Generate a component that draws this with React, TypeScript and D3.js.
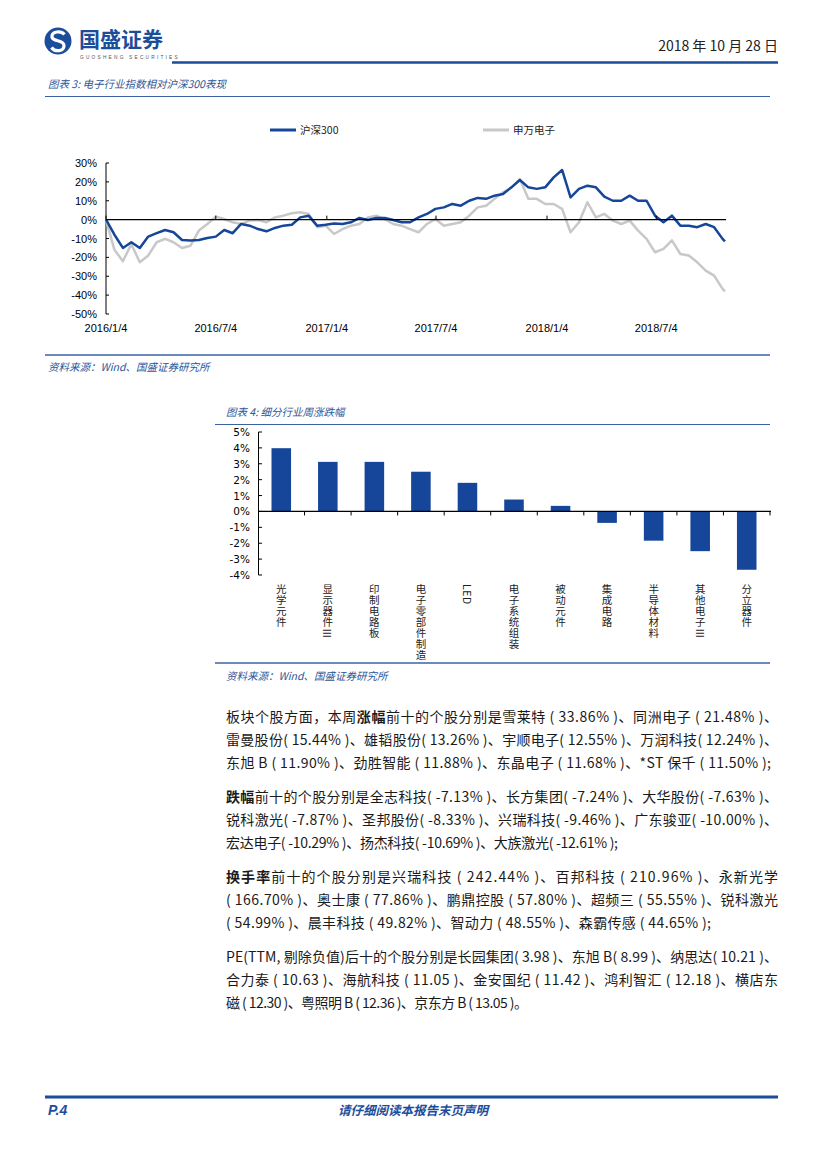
import React from 'react';
import * as d3 from 'd3';

// ---------- Chart 3 data: relative performance (%), sampled every 14 days from 2016-01-04, last point 2018-10-26
const lineStart = '2016-01-04';
const lineEnd = '2018-10-26';
const sampleStepDays = 14;
const hs300Values = [
  0, -8, -15, -12, -15, -9, -7.2, -5.5, -6.7, -10.8,
  -11, -10.8, -9.7, -9, -5.5, -7.2, -2.3, -3.2, -5, -6.2,
  -4.4, -3.2, -2.7, 1.2, 2, -3.2, -2.7, -2, -2.3, -1.4,
  0.9, -0.2, 0.9, 0.9, -0.2, -1.4, -1.4, 1.2, 3, 5.7,
  6.5, 8.3, 7.4, 10, 11.5, 11, 12.7, 13.6, 17.1, 21,
  17.1, 16.3, 17.1, 22.4, 26.3, 11.8, 16.3, 18, 17.1, 12.2,
  10, 10, 12.7, 10, 10, 2.1, -1.4, 2.1, -3.2, -3.2,
  -4, -2.3, -4, -10.2, -11.5,
];
const swElecValues = [
  0, -16, -22, -13, -22.6, -19, -12, -10.2, -12, -15,
  -13.8, -5.8, -2.3, 1.6, 0.3, -1.4, -2.3, -0.5, -0.2, -1.4,
  1.2, 2.1, 3.4, 3.9, 3, -4, -3.2, -7.6, -5, -3.2,
  -2.3, 1.2, 2.1, 0.3, -2.3, -3.2, -5, -6.7, -2.3, 0.3,
  -3.2, -2.3, -1.4, 2.1, 6.5, 7.4, 11, 14.5, 17, 21.5,
  11, 11, 8.3, 8.3, 5.7, -6.7, -1.4, 9.2, 1.2, 3,
  -0.5, -2.3, -0.5, -5.8, -10.2, -17.3, -15.5, -11, -18.2, -19,
  -22.6, -27, -29.7, -36.7, -38,
];
const seriesNames = ['沪深300', '申万电子'];
const xTickLabels = ['2016/1/4', '2016/7/4', '2017/1/4', '2017/7/4', '2018/1/4', '2018/7/4'];
const yTicks1 = [30, 20, 10, 0, -10, -20, -30, -40, -50];

// ---------- Chart 4 data: weekly change by sub-industry (%)
const barCategories = ['光学元件', '显示器件Ⅲ', '印制电路板', '电子零部件制造', 'LED', '电子系统组装', '被动元件', '集成电路', '半导体材料', '其他电子Ⅲ', '分立器件'];
const barValues = [3.98, 3.12, 3.12, 2.5, 1.8, 0.75, 0.35, -0.72, -1.84, -2.5, -3.67];
const yTicks2 = [5, 4, 3, 2, 1, 0, -1, -2, -3, -4];

// ---------- Body text
type Seg = { t: string; b?: boolean };
const paragraphs: Seg[][][] = [
  [
    [{ t: '板块个股方面，本周' }, { t: '涨幅', b: true }, { t: '前十的个股分别是雪莱特 ( 33.86% )、同洲电子 ( 21.48% )、' }],
    [{ t: '雷曼股份( 15.44% )、雄韬股份( 13.26% )、宇顺电子( 12.55% )、万润科技( 12.24% )、' }],
    [{ t: '东旭 B ( 11.90% )、劲胜智能 ( 11.88% )、东晶电子 ( 11.68% )、*ST 保千 ( 11.50% );' }],
  ],
  [
    [{ t: '跌幅', b: true }, { t: '前十的个股分别是全志科技( -7.13% )、长方集团( -7.24% )、大华股份( -7.63% )、' }],
    [{ t: '锐科激光( -7.87% )、圣邦股份( -8.33% )、兴瑞科技( -9.46% )、广东骏亚( -10.00% )、' }],
    [{ t: '宏达电子( -10.29% )、扬杰科技( -10.69% )、大族激光( -12.61% );' }],
  ],
  [
    [{ t: '换手率', b: true }, { t: '前十的个股分别是兴瑞科技 ( 242.44% )、百邦科技 ( 210.96% )、永新光学' }],
    [{ t: '( 166.70% )、奥士康 ( 77.86% )、鹏鼎控股 ( 57.80% )、超频三 ( 55.55% )、锐科激光' }],
    [{ t: '( 54.99% )、晨丰科技 ( 49.82% )、智动力 ( 48.55% )、森霸传感 ( 44.65% );' }],
  ],
  [
    [{ t: 'PE(TTM, 剔除负值)后十的个股分别是长园集团( 3.98 )、东旭 B( 8.99 )、纳思达( 10.21 )、' }],
    [{ t: '合力泰 ( 10.63 )、海航科技 ( 11.05 )、金安国纪 ( 11.42 )、鸿利智汇 ( 12.18 )、横店东' }],
    [{ t: '磁 ( 12.30 )、粤照明 B ( 12.36 )、京东方 B ( 13.05 )。' }],
  ],
];
const lastLineWidths = [545, 392, 485, 302];

const BLUE = '#15469a';
const NAVY = '#1c4d9b';
const TITLE = '#2b5597';
const GREY = '#c8c8c8';
const CJK = '"Noto Sans CJK SC", "Noto Sans", sans-serif';
const NUM = '"Liberation Sans", Arial, sans-serif';

export default function App() {
  const parse = d3.timeParse('%Y-%m-%d');
  const parseTick = d3.timeParse('%Y/%m/%d');
  const start = parse(lineStart) as Date;
  const end = parse(lineEnd) as Date;
  const n = hs300Values.length;
  const dates = hs300Values.map((_, i) => (i === n - 1 ? end : d3.timeDay.offset(start, i * sampleStepDays)));

  const x1 = d3.scaleTime().domain([start, end]).range([106, 725]);
  const y1 = d3.scaleLinear().domain([-50, 30]).range([314, 163]);
  const lineGen = d3.line<number>().x((_, i) => x1(dates[i])).y((d) => y1(d));

  const x2 = d3.scaleBand<string>().domain(barCategories).range([258, 770]).paddingInner(0.58).paddingOuter(0.29);
  const y2 = d3.scaleLinear().domain([-4, 5]).range([575, 432]);
  const step2 = x2.step();

  const paraTop = [722, 802, 882, 962];

  return (
    <svg width={827} height={1170} style={{ position: 'absolute', left: 0, top: 0, background: '#fff' }}>
      {/* Header */}
      <g>
        <circle cx={58} cy={41} r={13.5} fill={NAVY} />
        <path d="M64.5,34.5 C61,30.5 51.5,31 52,37 C52.5,42 64,39.5 64,45.5 C64,51.5 55,52.5 51.5,47.5" fill="none" stroke="#fff" strokeWidth={3.2} />
        <text x={79} y={47} fontSize={21} fontWeight={700} fontFamily={CJK} fill={NAVY}>国盛证券</text>
        <text x={80} y={59} fontSize={4.8} fontFamily={NUM} fill="#555" letterSpacing={2.2}>GUOSHENG SECURITIES</text>
        <text x={778} y={51} fontSize={14} fontFamily={CJK} fill="#222" textAnchor="end">2018 年 10 月 28 日</text>
        <line x1={172} x2={778} y1={62.5} y2={62.5} stroke={NAVY} strokeWidth={2.5} />
      </g>

      {/* Chart 3 */}
      <g>
        <text x={48} y={88} fontSize={10.5} fontStyle="italic" fontFamily={CJK} fill={TITLE}>图表 3:  电子行业指数相对沪深300表现</text>
        <line x1={45} x2={770} y1={96.5} y2={96.5} stroke="#3a62a2" strokeWidth={1} />
        {/* legend */}
        <line x1={270} x2={296} y1={130} y2={130} stroke={BLUE} strokeWidth={3} />
        <text x={300} y={134} fontSize={10.5} fontFamily={CJK} fill="#222">{seriesNames[0]}</text>
        <line x1={483} x2={509} y1={130} y2={130} stroke={GREY} strokeWidth={3} />
        <text x={513} y={134} fontSize={10.5} fontFamily={CJK} fill="#222">{seriesNames[1]}</text>
        {/* y axis */}
        <line x1={106} x2={106} y1={163} y2={314} stroke="#000" strokeWidth={1} />
        {yTicks1.map((t) => (
          <g key={t}>
            <line x1={106} x2={109} y1={y1(t)} y2={y1(t)} stroke="#000" />
            <text x={97} y={y1(t) + 4} fontSize={11} fontFamily={NUM} textAnchor="end" fill="#000">{t}%</text>
          </g>
        ))}
        {/* x labels */}
        {xTickLabels.map((l) => {
          const d = parseTick(l) as Date;
          return (
            <text key={l} x={x1(d)} y={332} fontSize={11} fontFamily={NUM} textAnchor="middle" fill="#000">{l}</text>
          );
        })}
        <path d={lineGen(swElecValues) || ''} fill="none" stroke={GREY} strokeWidth={2.5} strokeLinejoin="round" />
        <path d={lineGen(hs300Values) || ''} fill="none" stroke={BLUE} strokeWidth={2.5} strokeLinejoin="round" />
        {/* zero axis */}
        <line x1={106} x2={726} y1={y1(0)} y2={y1(0)} stroke="#000" strokeWidth={1.2} />
        {xTickLabels.map((l) => {
          const d = parseTick(l) as Date;
          return <line key={l} x1={x1(d)} x2={x1(d)} y1={y1(0)} y2={y1(0) - 4} stroke="#000" />;
        })}
        <line x1={45} x2={770} y1={355} y2={355} stroke="#3a62a2" strokeWidth={1.5} />
        <text x={48} y={371} fontSize={10.5} fontStyle="italic" fontFamily={CJK} fill={TITLE}>资料来源：Wind、国盛证券研究所</text>
      </g>

      {/* Chart 4 */}
      <g>
        <text x={226} y={416} fontSize={10.5} fontStyle="italic" fontFamily={CJK} fill={TITLE}>图表 4:  细分行业周涨跌幅</text>
        <line x1={215} x2={770} y1={424.5} y2={424.5} stroke="#3a62a2" strokeWidth={1} />
        <line x1={258.5} x2={258.5} y1={432} y2={575} stroke="#000" />
        {yTicks2.map((t) => (
          <g key={t}>
            <line x1={258.5} x2={262} y1={y2(t)} y2={y2(t)} stroke="#000" />
            <text x={250} y={y2(t) + 4} fontSize={10.5} fontFamily={'"DejaVu Sans", sans-serif'} textAnchor="end" fill="#000">{t}%</text>
          </g>
        ))}
        {barCategories.map((c, i) => {
          const v = barValues[i];
          const yTop = y2(Math.max(0, v));
          const h = Math.abs(y2(v) - y2(0));
          return <rect key={c} x={x2(c)} y={yTop} width={x2.bandwidth()} height={h} fill={BLUE} />;
        })}
        <line x1={258} x2={771} y1={y2(0)} y2={y2(0)} stroke="#000" strokeWidth={1.2} />
        {barCategories.map((c, i) => (
          <line key={c} x1={258 + step2 * (i + 1)} x2={258 + step2 * (i + 1)} y1={y2(0)} y2={y2(0) + 4} stroke="#000" />
        ))}
        {barCategories.map((c) => {
          const parts = c.split(/(Ⅲ)/).filter((p) => p.length > 0);
          return (
            <text key={c} x={(x2(c) || 0) + x2.bandwidth() / 2} y={584} fontSize={10.5} fontFamily={CJK} fill="#222"
              letterSpacing={0.5}
              style={{ writingMode: 'vertical-rl', textOrientation: 'mixed' } as React.CSSProperties}>
              {parts.map((p, k) =>
                p === 'Ⅲ' ? (
                  <tspan key={k} style={{ textOrientation: 'sideways' } as React.CSSProperties}>{p}</tspan>
                ) : (
                  <tspan key={k}>{p}</tspan>
                )
              )}
            </text>
          );
        })}
        <line x1={215} x2={770} y1={663} y2={663} stroke="#3a62a2" strokeWidth={1.5} />
        <text x={226} y={680} fontSize={10.5} fontStyle="italic" fontFamily={CJK} fill={TITLE}>资料来源：Wind、国盛证券研究所</text>
      </g>

      {/* Body text */}
      <g fontFamily={CJK} fontSize={14} fill="#1a1a1a">
        {paragraphs.map((p, pi) =>
          p.map((line, li) => (
            <text key={`${pi}-${li}`} x={226} y={paraTop[pi] + li * 23}
              textLength={li === p.length - 1 ? lastLineWidths[pi] : 552} lengthAdjust="spacing">
              {line.map((s, si) => (
                <tspan key={si} fontWeight={s.b ? 700 : 400}>{s.t}</tspan>
              ))}
            </text>
          ))
        )}
      </g>

      {/* Footer */}
      <g>
        <line x1={45} x2={778} y1={1097} y2={1097} stroke={NAVY} strokeWidth={3} />
        <text x={48} y={1115} fontSize={14} fontWeight={700} fontStyle="italic" fontFamily={NUM} fill={NAVY}>P.4</text>
        <text x={413} y={1115} fontSize={12.5} fontWeight={700} fontStyle="italic" fontFamily={CJK} fill={NAVY} textAnchor="middle">请仔细阅读本报告末页声明</text>
      </g>
    </svg>
  );
}
